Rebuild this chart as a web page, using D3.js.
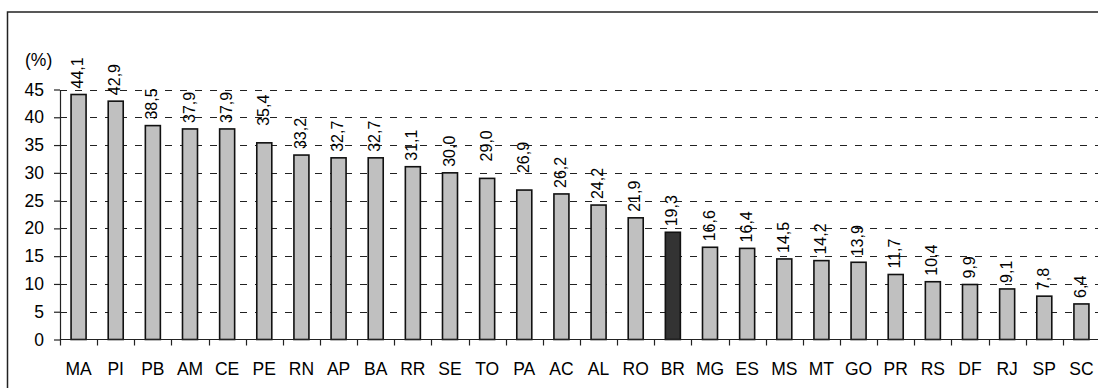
<!DOCTYPE html>
<html>
<head>
<meta charset="utf-8">
<script src="https://cdn.jsdelivr.net/npm/d3@7/dist/d3.min.js"></script>
<style>
  html, body { margin: 0; padding: 0; background: #fff; }
  svg { display: block; font-family: "Liberation Sans", Arial, sans-serif; }
</style>
</head>
<body>
<svg id="chart" width="1098" height="388"></svg>
<script>
// Share of population per state (%), sorted descending; BR is the national figure
const states = ["MA","PI","PB","AM","CE","PE","RN","AP","BA","RR","SE","TO","PA","AC",
                "AL","RO","BR","MG","ES","MS","MT","GO","PR","RS","DF","RJ","SP","SC"];
const values = [44.1,42.9,38.5,37.9,37.9,35.4,33.2,32.7,32.7,31.1,30.0,29.0,26.9,26.2,
                24.2,21.9,19.3,16.6,16.4,14.5,14.2,13.9,11.7,10.4,9.9,9.1,7.8,6.4];
const yTicks = [0,5,10,15,20,25,30,35,40,45];
const highlighted = "BR";
const liftedLabels = ["PE","TO","PA"];   // labels sitting a little higher above their bars

const data = states.map((s, i) => ({ state: s, value: values[i] }));

const svg = d3.select("#chart");
const plotLeft = 60, plotRight = 1100, plotTop = 89.5, plotBottom = 339.5;
const axisFont = 17.5, valueFont = 16;

const x = d3.scaleBand().domain(states).range([plotLeft, plotRight])
  .paddingInner(0.569).paddingOuter(0.569 / 2);
const y = d3.scaleLinear().domain([0, 45]).range([plotBottom, plotTop]);

const fmt = d3.formatLocale({ decimal: ",", thousands: ".", grouping: [3], currency: ["", ""] }).format(".1f");

// outer frame
svg.append("rect")
  .attr("x", 7.5).attr("y", 12).attr("width", 1200).attr("height", 500)
  .attr("fill", "none").attr("stroke", "#222").attr("stroke-width", 1.5);

// dashed gridlines
svg.append("g").selectAll("line")
  .data(yTicks.filter(t => t > 0))
  .join("line")
  .attr("x1", plotLeft).attr("x2", plotRight)
  .attr("y1", d => Math.round(y(d)) + 0.5).attr("y2", d => Math.round(y(d)) + 0.5)
  .attr("stroke", "#222").attr("stroke-width", 1.2)
  .attr("stroke-dasharray", "7,8");

// bars
svg.append("g").selectAll("rect")
  .data(data)
  .join("rect")
  .attr("x", d => x(d.state) + 0.5)
  .attr("y", d => y(d.value))
  .attr("width", x.bandwidth() - 1)
  .attr("height", d => y(0) - y(d.value))
  .attr("fill", d => d.state === highlighted ? "#333333" : "#c0c0c0")
  .attr("stroke", "#111").attr("stroke-width", 1.6);

// y axis
const yAxis = svg.append("g")
  .attr("transform", `translate(${plotLeft},0)`)
  .call(d3.axisLeft(y).tickValues(yTicks).tickSize(6).tickSizeOuter(0).tickPadding(10).tickFormat(d3.format("d")));
yAxis.select(".domain").attr("stroke", "#222").attr("stroke-width", 1.2);
yAxis.selectAll(".tick line").attr("stroke", "#222").attr("stroke-width", 1.2);
yAxis.selectAll(".tick text").attr("font-size", axisFont).attr("fill", "#000")
  .attr("font-family", "Liberation Sans, Arial, sans-serif");

// x axis: line, boundary ticks, centered category labels
svg.append("line")
  .attr("x1", plotLeft).attr("x2", plotRight).attr("y1", plotBottom).attr("y2", plotBottom)
  .attr("stroke", "#222").attr("stroke-width", 1.2);
const boundaries = states.map(s => x(s) + x.bandwidth() / 2 - x.step() / 2);
svg.append("g").selectAll("line")
  .data(boundaries)
  .join("line")
  .attr("x1", d => Math.round(d) + 0.5).attr("x2", d => Math.round(d) + 0.5)
  .attr("y1", plotBottom).attr("y2", plotBottom + 6)
  .attr("stroke", "#222").attr("stroke-width", 1.2);
svg.append("g").selectAll("text")
  .data(states)
  .join("text")
  .attr("x", d => x(d) + x.bandwidth() / 2)
  .attr("y", 375)
  .attr("text-anchor", "middle")
  .attr("font-size", axisFont)
  .attr("fill", "#000")
  .text(d => d);

// unit label
svg.append("text")
  .attr("x", 25).attr("y", 66)
  .attr("font-size", axisFont).attr("fill", "#000")
  .text("(%)");

// rotated value labels above each bar
svg.append("g").selectAll("text")
  .data(data)
  .join("text")
  .attr("transform", d => {
    const cx = x(d.state) + x.bandwidth() / 2 - 1;
    const cy = y(d.value) - 6 - (liftedLabels.includes(d.state) ? 11 : 0);
    return `translate(${cx},${cy}) rotate(-90)`;
  })
  .attr("dy", "0.35em")
  .attr("font-size", valueFont)
  .attr("fill", "#000")
  .text(d => fmt(d.value));
</script>
</body>
</html>
